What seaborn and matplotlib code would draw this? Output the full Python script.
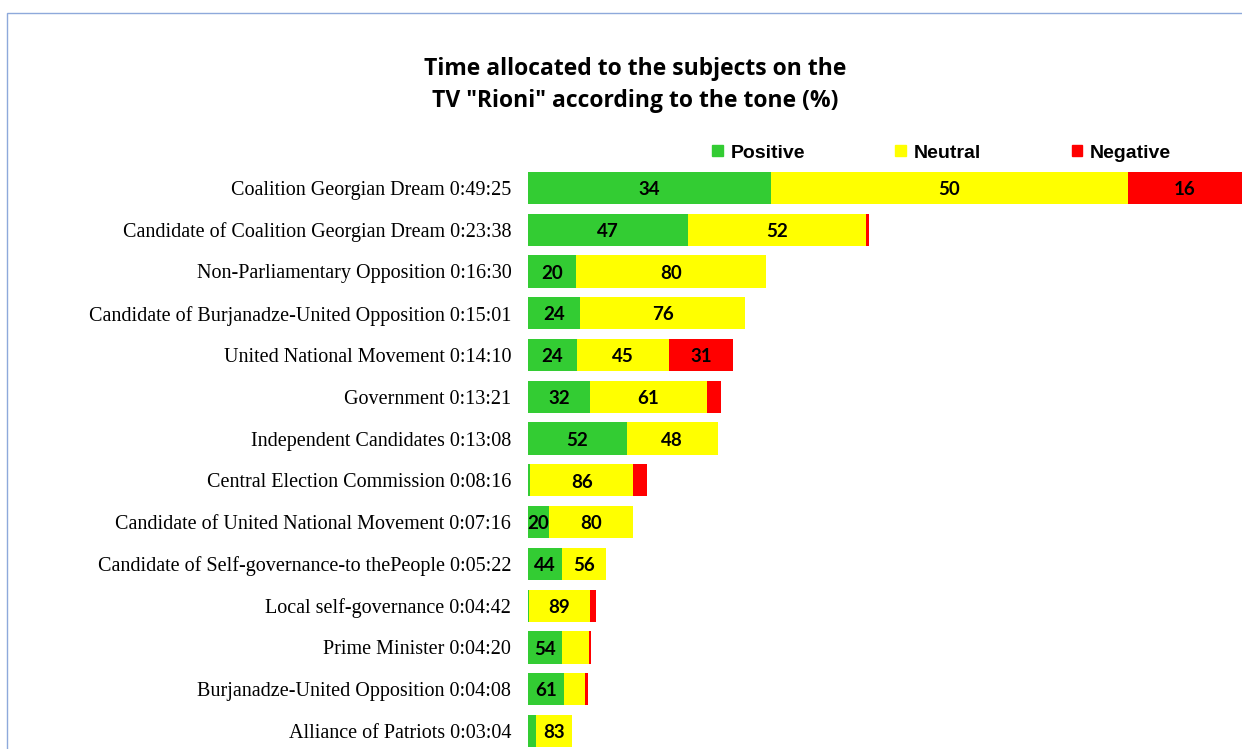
import matplotlib
matplotlib.use("Agg")
import matplotlib.pyplot as plt
import matplotlib.patches as mpatches
import seaborn as sns
import pandas as pd

# --- data ---
subjects = [
    "Coalition Georgian Dream", "Candidate of Coalition Georgian Dream",
    "Non-Parliamentary Opposition", "Candidate of Burjanadze-United Opposition",
    "United National Movement", "Government", "Independent Candidates",
    "Central Election Commission", "Candidate of United National Movement",
    "Candidate of Self-governance-to thePeople", "Local self-governance",
    "Prime Minister", "Burjanadze-United Opposition", "Alliance of Patriots",
]
durations = [
    "0:49:25", "0:23:38", "0:16:30", "0:15:01", "0:14:10", "0:13:21", "0:13:08",
    "0:08:16", "0:07:16", "0:05:22", "0:04:42", "0:04:20", "0:04:08", "0:03:04",
]
positive = [34, 47, 20, 24, 24, 32, 52, 2, 20, 44, 2, 54, 61, 17]
neutral = [50, 52, 80, 76, 45, 61, 48, 86, 80, 56, 89, 44, 35, 83]
negative = [16, 1, 0, 0, 31, 7, 0, 12, 0, 0, 9, 2, 4, 0]
# which numbers are printed on the bars (the source hides some)
pos_shown = [True, True, True, True, True, True, True, False, True, True, False, True, True, False]
neu_shown = [True, True, True, True, True, True, True, True, True, True, True, False, False, True]
neg_shown = [True, False, False, False, True, False, False, False, False, False, False, False, False, False]

GREEN, YELLOW, RED = "#33CC33", "#FFFF00", "#FF0000"


def to_seconds(s):
    h, m, sec = (int(p) for p in s.split(":"))
    return h * 3600 + m * 60 + sec


df = pd.DataFrame({"subject": subjects, "time": durations,
                   "pos": positive, "neu": neutral, "neg": negative})
df["label"] = df["subject"] + " " + df["time"]
df["total"] = df["time"].apply(to_seconds)
df["pos_w"] = df["total"] * df["pos"] / 100
df["neu_w"] = df["total"] * df["neu"] / 100
df["neg_w"] = df["total"] * df["neg"] / 100
df["cum_pos"] = df["pos_w"]
df["cum_neu"] = df["pos_w"] + df["neu_w"]
df["cum_all"] = df["cum_neu"] + df["neg_w"]

sns.set_theme(style="white")
plt.rcParams["font.family"] = ["Liberation Serif", "DejaVu Serif"]
plt.rcParams["text.color"] = "black"
plt.rcParams["ytick.color"] = "black"

fig = plt.figure(figsize=(12.42, 7.49), dpi=100)
ax = fig.add_axes([528 / 1242, 0, 714 / 1242, 582 / 749])

# layered bars: full length red, then yellow, then green on top
order = list(df["label"])
for col, colour in [("cum_all", RED), ("cum_neu", YELLOW), ("cum_pos", GREEN)]:
    sns.barplot(data=df, x=col, y="label", order=order, color=colour,
                saturation=1, width=0.77, orient="h", linewidth=0, ax=ax)

# value labels in segment centres
lab_font = dict(family=["Lato", "DejaVu Sans"], fontweight="bold", fontsize=13.5,
                color="black", ha="center", va="center")
for i, row in df.iterrows():
    segs = [(0, row["pos_w"], row["pos"], pos_shown[i]),
            (row["cum_pos"], row["neu_w"], row["neu"], neu_shown[i]),
            (row["cum_neu"], row["neg_w"], row["neg"], neg_shown[i])]
    for left, w, val, shown in segs:
        if shown and val > 0:
            ax.text(left + w / 2, i + 0.04, f"{val}", **lab_font)

ax.set_xlim(0, df["total"].max())
ax.set_ylim(len(df) - 1 + 0.43, -0.5)
ax.set_xlabel("")
ax.set_ylabel("")
ax.set_xticks([])
ax.tick_params(axis="y", length=0, pad=12, labelsize=14.5)
for sp in ax.spines.values():
    sp.set_visible(False)

# legend
handles = [mpatches.Patch(color=GREEN, label="Positive"),
           mpatches.Patch(color=YELLOW, label="Neutral"),
           mpatches.Patch(color=RED, label="Negative")]
fig.legend(handles=handles, loc="center left", bbox_to_anchor=(712 / 1242, 1 - 153 / 749),
           ncol=3, frameon=False, handlelength=0.55, handleheight=0.55, handletextpad=0.4,
           columnspacing=4.65, borderaxespad=0, borderpad=0,
           prop=dict(family=["Liberation Sans", "DejaVu Sans"], weight="bold", size=14))

# title
fig.text(635 / 1242, 1 - 85 / 749,
         'Time allocated to the subjects on the\nTV "Rioni" according to the tone (%)',
         ha="center", va="center", fontsize=16.5, fontweight="bold", color="black",
         family=["Open Sans", "DejaVu Sans"], linespacing=1.45)

# outer chart border (cropped in the reference)
fig.patches.append(mpatches.Rectangle((7 / 1242, -0.1), 2, 1 - 13 / 749 + 0.1,
                                      transform=fig.transFigure, fill=False,
                                      edgecolor="#8EA9DB", linewidth=1))

fig.savefig("out.png", dpi=100)
